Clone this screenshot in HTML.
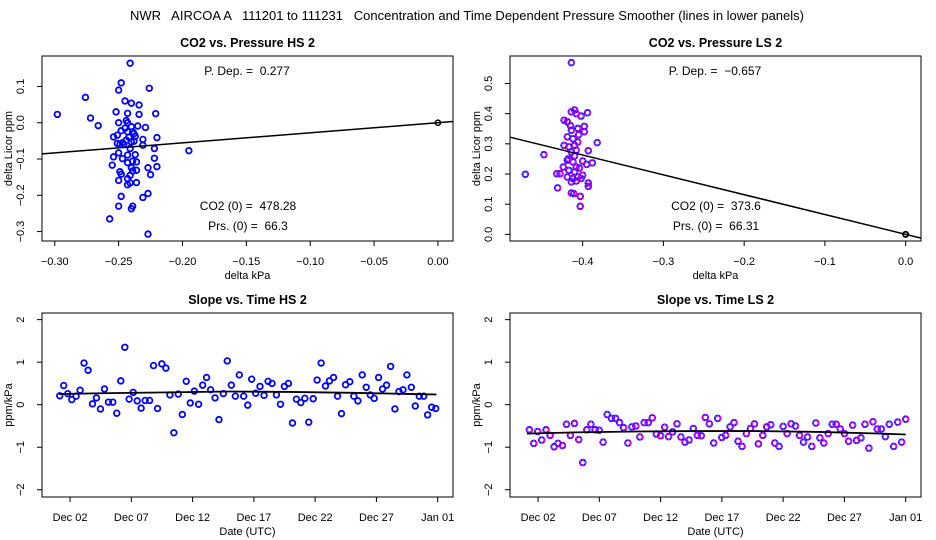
<!DOCTYPE html>
<html><head><meta charset="utf-8"><style>
body{margin:0;background:#fff}
svg{display:block;font-family:"Liberation Sans",sans-serif}
svg text{white-space:pre}
</style></head><body>
<svg id="c" width="936" height="540" viewBox="0 0 936 540" xml:space="preserve">
<text x="467" y="20" font-size="13" text-anchor="middle">NWR   AIRCOA A   111201 to 111231   Concentration and Time Dependent Pressure Smoother (lines in lower panels)</text>
</svg>
<script>
// ---- data: top-left (HS) scatter ----
const hsPx=[-0.298,-0.276,-0.272,-0.266,-0.241,-0.248,-0.250,-0.226,-0.245,-0.240,-0.234,-0.252,-0.243,-0.234,-0.221,-0.250,-0.244,-0.243,-0.240,-0.235,-0.229,-0.254,-0.251,-0.248,-0.243,-0.239,-0.237,-0.231,-0.220,-0.251,-0.247,-0.244,-0.240,-0.238,-0.231,-0.241,-0.222,-0.195,-0.254,-0.250,-0.247,-0.243,-0.237,-0.222,-0.255,-0.243,-0.239,-0.236,-0.240,-0.227,-0.220,-0.249,-0.239,-0.236,-0.248,-0.241,-0.225,-0.250,-0.243,-0.243,-0.241,-0.236,-0.248,-0.227,-0.231,-0.250,-0.239,-0.240,-0.257,-0.227,-0.246,-0.242,-0.238,-0.245,-0.249];
const hsPy=[0.023,0.070,0.013,-0.008,0.164,0.110,0.090,0.095,0.060,0.054,0.049,0.030,0.026,0.023,0.025,0.000,0.006,0.000,-0.011,-0.009,-0.013,-0.039,-0.034,-0.022,-0.025,-0.025,-0.037,-0.046,-0.041,-0.057,-0.055,-0.048,-0.053,-0.051,-0.062,-0.071,-0.071,-0.077,-0.094,-0.083,-0.099,-0.089,-0.088,-0.098,-0.117,-0.110,-0.106,-0.108,-0.124,-0.124,-0.121,-0.135,-0.133,-0.131,-0.142,-0.145,-0.143,-0.159,-0.154,-0.171,-0.166,-0.165,-0.203,-0.195,-0.206,-0.230,-0.230,-0.237,-0.265,-0.307,-0.060,-0.040,-0.030,-0.015,-0.060];
const hsDep=0.277;
// ---- data: top-right (LS) scatter ----
const lsPx=[-0.471,-0.448,-0.431,-0.432,-0.428,-0.424,-0.414,-0.410,-0.423,-0.419,-0.414,-0.408,-0.402,-0.394,-0.398,-0.398,-0.406,-0.414,-0.419,-0.412,-0.406,-0.423,-0.417,-0.410,-0.382,-0.393,-0.414,-0.408,-0.400,-0.395,-0.388,-0.419,-0.412,-0.408,-0.417,-0.410,-0.419,-0.412,-0.406,-0.402,-0.400,-0.414,-0.408,-0.393,-0.393,-0.414,-0.411,-0.403,-0.403,-0.405,-0.415,-0.410,-0.404,-0.418];
const lsPy=[0.199,0.264,0.154,0.201,0.201,0.223,0.569,0.412,0.378,0.373,0.406,0.400,0.392,0.403,0.358,0.340,0.351,0.345,0.323,0.317,0.306,0.295,0.290,0.295,0.304,0.277,0.273,0.279,0.243,0.232,0.237,0.245,0.240,0.223,0.212,0.207,0.190,0.185,0.190,0.185,0.196,0.174,0.177,0.170,0.159,0.137,0.135,0.126,0.093,0.330,0.360,0.260,0.220,0.250];
const lsDep=-0.657;
// ---- data: bottom-left (HS slope vs time), t = day of Dec ----
const hsT=[1.16,1.48,1.81,2.14,2.49,2.82,3.14,3.47,3.83,4.15,4.48,4.81,5.13,5.49,5.81,6.14,6.47,6.82,7.15,7.48,7.80,8.13,8.49,8.81,9.14,9.49,9.82,10.15,10.47,10.83,11.16,11.48,11.81,12.14,12.49,12.82,13.14,13.47,13.83,14.15,14.51,14.83,15.16,15.49,15.81,16.17,16.50,16.82,17.15,17.50,17.83,18.16,18.48,18.84,19.17,19.49,19.82,20.15,20.47,20.83,21.16,21.48,21.84,22.16,22.49,22.84,23.17,23.50,23.83,24.15,24.48,24.83,25.16,25.49,25.84,26.17,26.50,26.82,27.18,27.50,27.83,28.16,28.51,28.84,29.17,29.49,29.85,30.17,30.50,30.86,31.18,31.51,31.84];
const hsS=[0.21,0.45,0.26,0.12,0.20,0.34,0.98,0.81,0.02,0.16,-0.10,0.37,0.06,0.06,-0.20,0.56,1.35,0.13,0.29,0.09,-0.08,0.10,0.10,0.92,-0.09,0.96,0.86,0.23,-0.66,0.25,-0.23,0.55,0.04,0.32,0.01,0.46,0.64,0.35,0.16,-0.35,0.26,1.03,0.46,0.20,0.70,0.20,-0.01,0.60,0.27,0.43,0.22,0.55,0.50,0.23,0.01,0.43,0.50,-0.43,0.13,0.05,0.15,-0.41,0.14,0.58,0.98,0.44,0.56,0.64,0.20,-0.21,0.47,0.54,0.20,0.09,0.70,0.41,0.23,0.15,0.64,0.37,0.46,0.90,-0.10,0.31,0.35,0.70,0.41,-0.03,0.20,0.20,-0.24,-0.06,-0.09];
const hsLineT=[1.1,4.5,10,15,20,25,30,31.9];
const hsLineS=[0.25,0.27,0.29,0.31,0.30,0.28,0.25,0.24];
// ---- data: bottom-right (LS slope vs time) ----
const lsT=[1.29,1.65,1.97,2.30,2.65,2.98,3.31,3.63,3.99,4.32,4.64,4.97,5.32,5.65,5.98,6.31,6.66,6.99,7.31,7.64,7.99,8.32,8.65,8.98,9.33,9.66,9.98,10.31,10.66,10.99,11.32,11.65,12.00,12.33,12.65,12.98,13.34,13.66,13.99,14.32,14.67,15.00,15.32,15.65,15.98,16.33,16.66,16.99,17.31,17.67,17.99,18.32,18.65,19.00,19.33,19.66,19.98,20.34,20.66,20.99,21.32,21.67,22.00,22.33,22.65,23.01,23.34,23.66,23.99,24.34,24.67,25.00,25.32,25.68,26.00,26.33,26.66,27.01,27.34,27.67,27.99,28.35,28.68,29.00,29.33,29.68,30.01,30.34,30.66,31.02,31.35,31.67,32.00];
const lsS=[-0.59,-0.91,-0.63,-0.83,-0.59,-0.72,-0.99,-0.91,-0.96,-0.46,-0.72,-0.44,-0.82,-1.36,-0.59,-0.46,-0.59,-0.60,-0.88,-0.23,-0.32,-0.32,-0.42,-0.54,-0.90,-0.52,-0.50,-0.76,-0.42,-0.42,-0.31,-0.69,-0.73,-0.53,-0.75,-0.64,-0.45,-0.76,-0.88,-0.83,-0.56,-0.72,-0.73,-0.30,-0.45,-0.90,-0.32,-0.77,-0.72,-0.52,-0.42,-0.86,-0.98,-0.68,-0.56,-0.45,-0.92,-0.72,-0.52,-0.47,-0.90,-0.98,-0.51,-0.68,-0.45,-0.50,-0.72,-0.88,-0.76,-0.98,-0.43,-0.78,-0.90,-0.68,-0.46,-0.46,-0.57,-0.68,-0.86,-0.48,-0.84,-0.78,-0.46,-1.02,-0.40,-0.57,-0.57,-0.75,-0.46,-0.98,-0.41,-0.88,-0.34];
const lsLineT=[1.1,5,10,15,20,25,30,32];
const lsLineS=[-0.68,-0.65,-0.63,-0.62,-0.62,-0.64,-0.68,-0.70];
// tick labels
const tlXticks=[-0.30,-0.25,-0.20,-0.15,-0.10,-0.05,0.00];
const tlYticks=[0.1,0.0,-0.1,-0.2,-0.3];
const trXticks=[-0.4,-0.3,-0.2,-0.1,0.0];
const trYticks=[0.0,0.1,0.2,0.3,0.4,0.5];
const dateTicks=[2,7,12,17,22,27,32];
const dateLabels=["Dec 02","Dec 07","Dec 12","Dec 17","Dec 22","Dec 27","Jan 01"];
const slopeYticks=[2,1,0,-1,-2];

const svg=document.getElementById('c');
const NS='http://www.w3.org/2000/svg';
function mk(tag,at,parent){const e=document.createElementNS(NS,tag);for(const k in at)e.setAttribute(k,at[k]);(parent||svg).appendChild(e);return e;}
function fmt(v,d){let s=v.toFixed(d);if(s.startsWith('-'))s='\u2212'+s.slice(1);if(/^\u2212?0(\.0+)?$/.test(s))s=s.replace('\u2212','');return s;}

function panel(o){
  const g=mk('g',{});
  
  
  const X=v=>o.x0+(v-o.dx[0])/(o.dx[1]-o.dx[0])*(o.x1-o.x0);
  const Y=v=>o.y1-(v-o.dy[0])/(o.dy[1]-o.dy[0])*(o.y1-o.y0);
  const box=mk('rect',{x:o.x0,y:o.y0,width:o.x1-o.x0,height:o.y1-o.y0,fill:'none',stroke:'#000','stroke-width':1},g);
  
  const t=mk('text',{x:(o.x0+o.x1)/2,y:o.y0-9,'font-size':12.5,'font-weight':'bold','text-anchor':'middle'},g);
  t.textContent=o.title;
  
  const xa=mk('g',{},g);
  mk('line',{x1:X(o.xt[0]),x2:X(o.xt[o.xt.length-1]),y1:o.y1,y2:o.y1,stroke:'#000'},xa);
  o.xt.forEach((v,i)=>{
    mk('line',{x1:X(v),x2:X(v),y1:o.y1,y2:o.y1+5,stroke:'#000'},xa);
    const l=mk('text',{x:X(v),y:o.y1+24,'font-size':11,'text-anchor':'middle'},xa);
    l.textContent=o.xl[i];
    
  });
  const xt=mk('text',{x:(o.x0+o.x1)/2,y:o.y1+38,'font-size':11,'text-anchor':'middle'},g);
  xt.textContent=o.xtitle;
  const ya=mk('g',{},g);
  mk('line',{x1:o.x0,x2:o.x0,y1:Y(Math.min(...o.yt)),y2:Y(Math.max(...o.yt)),stroke:'#000'},ya);
  o.yt.forEach((v,i)=>{
    mk('line',{x1:o.x0-5,x2:o.x0,y1:Y(v),y2:Y(v),stroke:'#000'},ya);
    const l=mk('text',{x:0,y:0,'font-size':11,'text-anchor':'middle',transform:`translate(${o.x0-18},${Y(v)}) rotate(-90)`},ya);
    l.textContent=o.yl[i];
    
  });
  const yt=mk('text',{x:0,y:0,'font-size':11,'text-anchor':'middle',transform:`translate(${o.x0-30},${(o.y0+o.y1)/2}) rotate(-90)`},g);
  yt.textContent=o.ytitle;
  return {g,X,Y};
}
function pts(p,xs,ys,ls,name){
  const gg=mk('g',{},p.g);
  xs.forEach((v,i)=>{
    if(ls){
      mk('circle',{cx:p.X(v),cy:p.Y(ys[i]),r:2.8,fill:'none',stroke:'#0000ff','stroke-width':1.9},gg);
      const c=mk('circle',{cx:p.X(v),cy:p.Y(ys[i]),r:2.8,fill:'none',stroke:'#ff00ff','stroke-width':1.2,'stroke-dasharray':'2 1'},gg);
      
    } else {
      const c=mk('circle',{cx:p.X(v),cy:p.Y(ys[i]),r:2.8,fill:'none',stroke:'#0000ff','stroke-width':1.8},gg);
      
    }
  });
}
function ann(p,x,y,s){const t=mk('text',{x,y,'font-size':12,'text-anchor':'middle'},p.g);t.textContent=s;}

const p1=panel({name:'co2-vs-pressure-hs',title:'CO2 vs. Pressure HS 2',x0:42,x1:453,y0:56,y1:241,dx:[-0.310,0.0118],dy:[-0.326,0.184],
  xt:tlXticks,xl:tlXticks.map(v=>fmt(v,2)),yt:tlYticks,yl:tlYticks.map(v=>fmt(v,1)),xtitle:'delta kPa',ytitle:'delta Licor ppm'});
pts(p1,hsPx,hsPy,false,'hs-scatter');
{const l=mk('line',{x1:p1.X(-0.310),y1:p1.Y(-0.310*hsDep),x2:p1.X(0.0118),y2:p1.Y(0.0118*hsDep),stroke:'#000','stroke-width':1.5},p1.g);}
{const c=mk('circle',{cx:p1.X(0),cy:p1.Y(0),r:2.6,fill:'none',stroke:'#000','stroke-width':1.5},p1.g);}
ann(p1,247,75,'P. Dep. =  0.277');ann(p1,248,210,'CO2 (0) =  478.28');ann(p1,248,230,'Prs. (0) =  66.3');

const p2=panel({name:'co2-vs-pressure-ls',title:'CO2 vs. Pressure LS 2',x0:510,x1:921,y0:56,y1:241,dx:[-0.490,0.019],dy:[-0.022,0.591],
  xt:trXticks,xl:trXticks.map(v=>fmt(v,1)),yt:trYticks,yl:trYticks.map(v=>fmt(v,1)),xtitle:'delta kPa',ytitle:'delta Licor ppm'});
pts(p2,lsPx,lsPy,true,'ls-scatter');
{const l=mk('line',{x1:p2.X(-0.490),y1:p2.Y(-0.490*lsDep),x2:p2.X(0.019),y2:p2.Y(0.019*lsDep),stroke:'#000','stroke-width':1.5},p2.g);}
{const c=mk('circle',{cx:p2.X(0),cy:p2.Y(0),r:2.6,fill:'none',stroke:'#000','stroke-width':1.8},p2.g);}
ann(p2,715,75,'P. Dep. =  \u22120.657');ann(p2,716,210,'CO2 (0) =  373.6');ann(p2,716,230,'Prs. (0) =  66.31');

function slope(name,title,x0,T,S,LT,LS,ls){
  const p=panel({name,title,x0,x1:x0+411,y0:313,y1:497,dx:[-0.29,33.25],dy:[-2.17,2.156],
    xt:dateTicks,xl:dateLabels,yt:slopeYticks,yl:slopeYticks.map(v=>fmt(v,0)),xtitle:'Date (UTC)',ytitle:'ppm/kPa'});
  pts(p,T,S,ls,'slope-points');
  const l=mk('polyline',{points:LT.map((v,i)=>p.X(v)+','+p.Y(LS[i])).join(' '),fill:'none',stroke:'#000','stroke-width':1.8},p.g);
  
}
slope('slope-vs-time-hs','Slope vs. Time HS 2',42,hsT,hsS,hsLineT,hsLineS,false);
slope('slope-vs-time-ls','Slope vs. Time LS 2',510,lsT,lsS,lsLineT,lsLineS,true);
</script>
</body></html>
